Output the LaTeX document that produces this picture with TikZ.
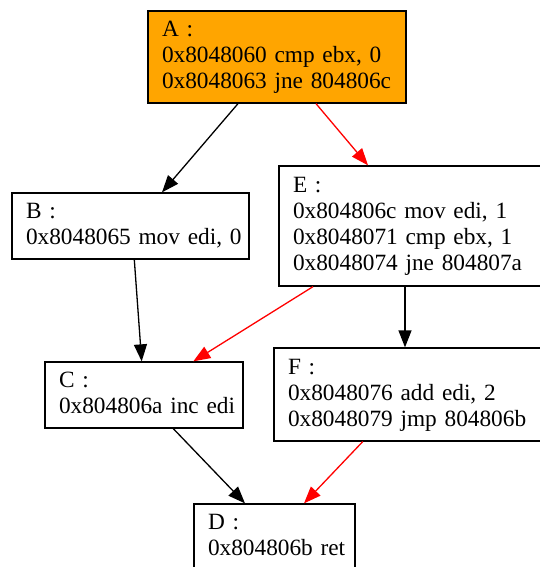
\documentclass[tikz,border=0pt]{standalone}
\usepackage{fontspec}
\setmainfont{Liberation Serif}
\usetikzlibrary{arrows.meta}
\definecolor{gvorange}{HTML}{FFA500}
\newcommand\gvs{\rule[-7.5pt]{0pt}{26pt}}
\newcommand\gvl[1]{\mbox{\gvs #1}}
\tikzset{
  blk/.style={draw=black, line width=1.3pt, rectangle, inner xsep=14pt, inner ysep=0pt,
    align=left, font=\fontsize{23.3pt}{26pt}\selectfont, anchor=center},
  edge/.style={line width=1.3pt, -{Triangle[length=17pt,width=13pt]}},
  redge/.style={edge, draw=red, -{Triangle[length=17pt,width=13pt,fill=red]}},
}
\begin{document}
\begin{tikzpicture}[x=1pt,y=-1pt]
\useasboundingbox (0,0) rectangle (540,567);
\fill[white] (0,0) rectangle (540,567);
\node[blk, fill=gvorange, text width=230pt, minimum width=258pt, minimum height=92pt] (A) at (277,57)
  {\gvl{A :}\\\gvl{0x8048060 cmp ebx, 0}\\\gvl{0x8048063 jne 804806c}};
\node[blk, text width=209pt, minimum width=237pt, minimum height=66pt] (B) at (130.5,226)
  {\gvl{B :}\\\gvl{0x8048065 mov edi, 0}};
\node[blk, text width=234pt, minimum width=262pt, minimum height=120pt] (E) at (410,226)
  {\gvl{E :}\\\gvl{0x804806c mov edi, 1}\\\gvl{0x8048071 cmp ebx, 1}\\\gvl{0x8048074 jne 804807a}};
\node[blk, text width=170pt, minimum width=198pt, minimum height=66pt] (C) at (144,395)
  {\gvl{C :}\\\gvl{0x804806a inc edi}};
\node[blk, text width=239pt, minimum width=267pt, minimum height=93pt] (F) at (407.5,394.5)
  {\gvl{F :}\\\gvl{0x8048076 add edi, 2}\\\gvl{0x8048079 jmp 804806b}};
\node[blk, text width=133pt, minimum width=161pt, minimum height=66pt] (D) at (274.5,537)
  {\gvl{D :}\\\gvl{0x804806b ret}};
\draw[edge] ([xshift=-39pt]A.south) -- ([xshift=31.5pt]B.north);
\draw[redge] ([xshift=39pt]A.south) -- ([xshift=-42pt]E.north);
\draw[edge] ([xshift=3.8pt]B.south) -- ([xshift=-2.3pt]C.north);
\draw[redge] ([xshift=-97pt]E.south) -- ([xshift=49.3pt]C.north);
\draw[edge] ([xshift=-5pt]E.south) -- ([xshift=-2.5pt]F.north);
\draw[edge] ([xshift=29.3pt]C.south) -- ([xshift=-29.5pt]D.north);
\draw[redge] ([xshift=-44.8pt]F.south) -- ([xshift=29.5pt]D.north);
\end{tikzpicture}
\end{document}
